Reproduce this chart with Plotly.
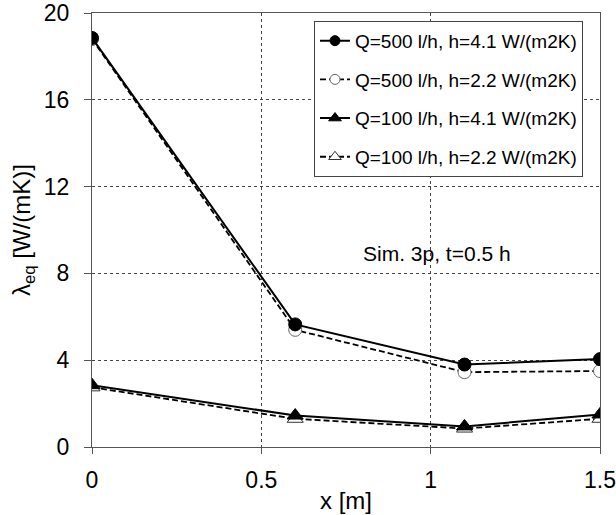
import plotly.graph_objects as go

x_vals = [0, 0.6, 1.1, 1.5]
q500_h41 = [18.85, 5.65, 3.8, 4.05]
q500_h22 = [18.8, 5.4, 3.45, 3.5]
q100_h41 = [2.85, 1.45, 0.95, 1.5]
q100_h22 = [2.75, 1.3, 0.85, 1.3]
names = ["Q=500 l/h, h=4.1 W/(m2K)", "Q=500 l/h, h=2.2 W/(m2K)",
         "Q=100 l/h, h=4.1 W/(m2K)", "Q=100 l/h, h=2.2 W/(m2K)"]
x_ticks = [0, 0.5, 1, 1.5]
x_tick_labels = ["0", "0.5", "1", "1.5"]
y_ticks = [0, 4, 8, 12, 16, 20]

series = [q500_h41, q500_h22, q100_h41, q100_h22]
styles = [
    dict(line=dict(color="black", width=2), symbol="circle", fill="black", edge="black", size=13),
    dict(line=dict(color="black", width=1.8, dash="6px,3px"), symbol="circle", fill="white", edge="#666666", size=13),
    dict(line=dict(color="black", width=2), symbol="triangle-up", fill="black", edge="black", size=14),
    dict(line=dict(color="black", width=1.8, dash="6px,3px"), symbol="triangle-up", fill="white", edge="#333333", size=14),
]

fig = go.Figure()
# dashed (open-marker) series first so the filled markers sit on top
for i in [1, 0, 3, 2]:
    st = styles[i]
    fig.add_trace(go.Scatter(x=x_vals, y=series[i], name=names[i], mode="lines+markers",
                             showlegend=False, line=st["line"],
                             marker=dict(symbol=st["symbol"], size=st["size"], color=st["fill"],
                                         line=dict(color=st["edge"], width=1))))
# legend entries (smaller symbols, as in the reference legend)
for i, st in enumerate(styles):
    fig.add_trace(go.Scatter(x=[None], y=[None], name=names[i], mode="lines+markers",
                             legendgroup=str(i), line=st["line"],
                             marker=dict(symbol=st["symbol"], size=st["size"] - 3, color=st["fill"],
                                         line=dict(color=st["edge"], width=1))))

fig.add_annotation(x=1.02, y=8.9, xref="x", yref="y", text="Sim. 3p, t=0.5 h",
                   showarrow=False, font=dict(size=21, color="black"))

fig.update_layout(
    width=616, height=515,
    margin=dict(l=92, r=16, t=13, b=68),
    paper_bgcolor="white", plot_bgcolor="white",
    font=dict(family="Liberation Sans, Arial", color="black"),
    showlegend=True,
    legend=dict(x=0.437, y=0.982, xanchor="left", yanchor="top",
                bgcolor="white", bordercolor="#444444", borderwidth=1,
                font=dict(size=19), itemwidth=30, tracegroupgap=11),
    xaxis=dict(range=[0, 1.5], tickvals=x_ticks, ticktext=x_tick_labels,
               showgrid=True, gridcolor="#444444", griddash="dot", gridwidth=1,
               showline=True, linecolor="#555555", linewidth=1, mirror=True,
               ticks="outside", ticklen=6, tickcolor="#555555",
               tickfont=dict(size=23), zeroline=False, automargin=False,
               ticklabelstandoff=6,
               title=dict(text="x [m]", font=dict(size=24), standoff=0)),
    yaxis=dict(range=[0, 20], tickvals=y_ticks,
               showgrid=True, gridcolor="#444444", griddash="dot", gridwidth=1,
               showline=True, linecolor="#555555", linewidth=1, mirror=True,
               ticks="outside", ticklen=7, tickcolor="#555555",
               tickfont=dict(size=23), zeroline=False, automargin=False,
               ticklabelstandoff=10,
               title=dict(text="λ<sub>eq</sub> [W/(mK)]", font=dict(size=24), standoff=6)),
)

fig.write_html("out.html")
